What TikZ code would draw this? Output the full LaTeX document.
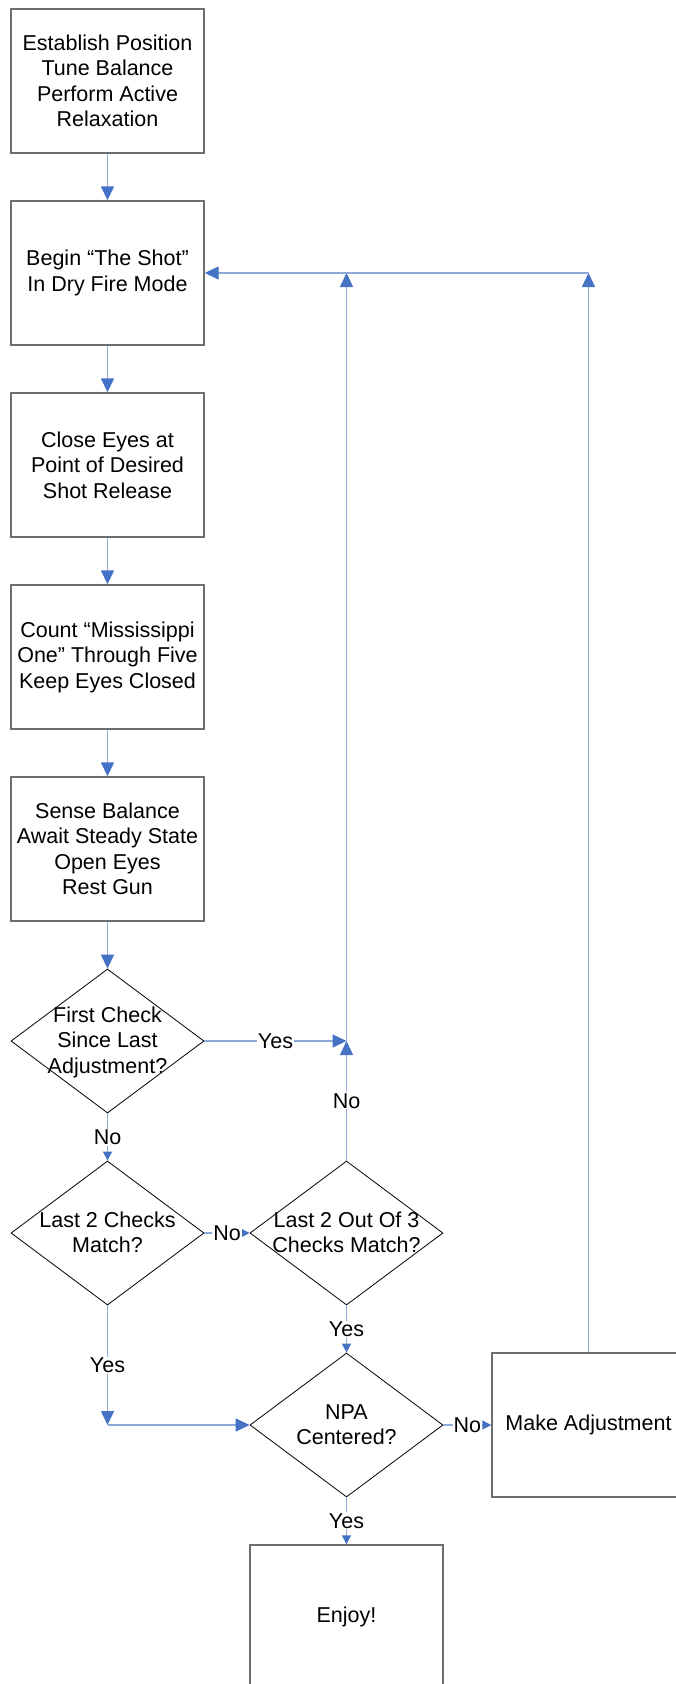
\documentclass[tikz,border=0pt]{standalone}
\usepackage{fontspec}
\setmainfont{Liberation Sans}
\usetikzlibrary{shapes.geometric,arrows.meta}

\definecolor{linkblue}{RGB}{142,170,219}
\definecolor{tipblue}{RGB}{68,114,196}
\definecolor{boxgray}{RGB}{110,110,110}

\newcommand{\dtext}[1]{\smash{\makebox[0pt]{\raisebox{-7pt}{\begin{tabular}{@{}c@{}}#1\end{tabular}}}}}

\tikzset{
  stepbox/.style={rectangle, draw=boxgray, line width=1.4pt, minimum width=193pt,
    minimum height=144pt, align=center, inner sep=0pt},
  decision/.style={diamond, draw=black, line width=0.8pt, minimum width=193pt,
    minimum height=144pt, inner sep=0pt},
  flow/.style={draw=linkblue, line width=1.4pt, -{Triangle[length=14pt,width=13pt,color=tipblue]}},
  shortflow/.style={draw=linkblue, line width=1.4pt, -{Triangle[length=9pt,width=9pt,color=tipblue]}},
  answer/.style={fill=white, inner sep=1pt}
}

\begin{document}
\begin{tikzpicture}[x=1pt,y=-1pt,font=\fontsize{21.5}{25.5}\selectfont]
\useasboundingbox (0,0) rectangle (676,1684);
\clip (0,0) rectangle (676,1684);

% Steps
\node[stepbox] (b1) at (107.5,81) {Establish Position\\Tune Balance\\Perform Active\\Relaxation};
\node[stepbox] (b2) at (107.5,273) {Begin “The Shot”\\In Dry Fire Mode};
\node[stepbox] (b3) at (107.5,465) {Close Eyes at\\Point of Desired\\Shot Release};
\node[stepbox] (b4) at (107.5,657) {Count “Mississippi\\One” Through Five\\Keep Eyes Closed};
\node[stepbox] (b5) at (107.5,849) {Sense Balance\\Await Steady State\\Open Eyes\\Rest Gun};

% Checks
\node[decision] (d1) at (107.5,1041) {\dtext{First Check\\Since Last\\Adjustment?}};
\node[decision] (d2) at (107.5,1233) {\dtext{Last 2 Checks\\Match?}};
\node[decision] (d3) at (346.5,1233) {\dtext{Last 2 Out Of 3\\Checks Match?}};
\node[decision] (npa) at (346.5,1425) {\dtext{NPA\\Centered?}};

% Outcomes
\node[stepbox] (madj) at (588.5,1425) {Make Adjustment};
\node[stepbox] (enjoy) at (346.5,1617) {Enjoy!};

% Corners
\coordinate (j1) at (d3 |- d1);
\coordinate (j2) at (d3 |- b2);
\coordinate (j3) at (madj |- b2);
\coordinate (j4) at (d2 |- npa);

% Flow
\foreach \a/\b in {b1/b2,b2/b3,b3/b4,b4/b5,b5/d1}
  \draw[flow] (\a) -- (\b);

\draw[flow] (d1.east) -- node[answer] (y1) {Yes} (j1);
\draw[flow] (d3.north) -- node[answer] (n3) {No} (j1);
\draw[flow] (j1) -- (j2);
\draw[flow] (madj.north) -- (j3);
\draw[flow] (j3) -- (b2.east);

\draw[shortflow] (d1.south) -- node[answer] (n1) {No} (d2.north);
\draw[shortflow] (d2.east) -- node[answer] (n2) {No} (d3.west);
\draw[flow] (d2.south) -- node[answer] (y2) {Yes} (j4);
\draw[flow] (j4) -- (npa.west);
\draw[shortflow] (d3.south) -- node[answer] (y3) {Yes} (npa.north);
\draw[shortflow] (npa.east) -- node[answer] (n4) {No} (madj.west);
\draw[shortflow] (npa.south) -- node[answer] (y4) {Yes} (enjoy.north);
\end{tikzpicture}
\end{document}
